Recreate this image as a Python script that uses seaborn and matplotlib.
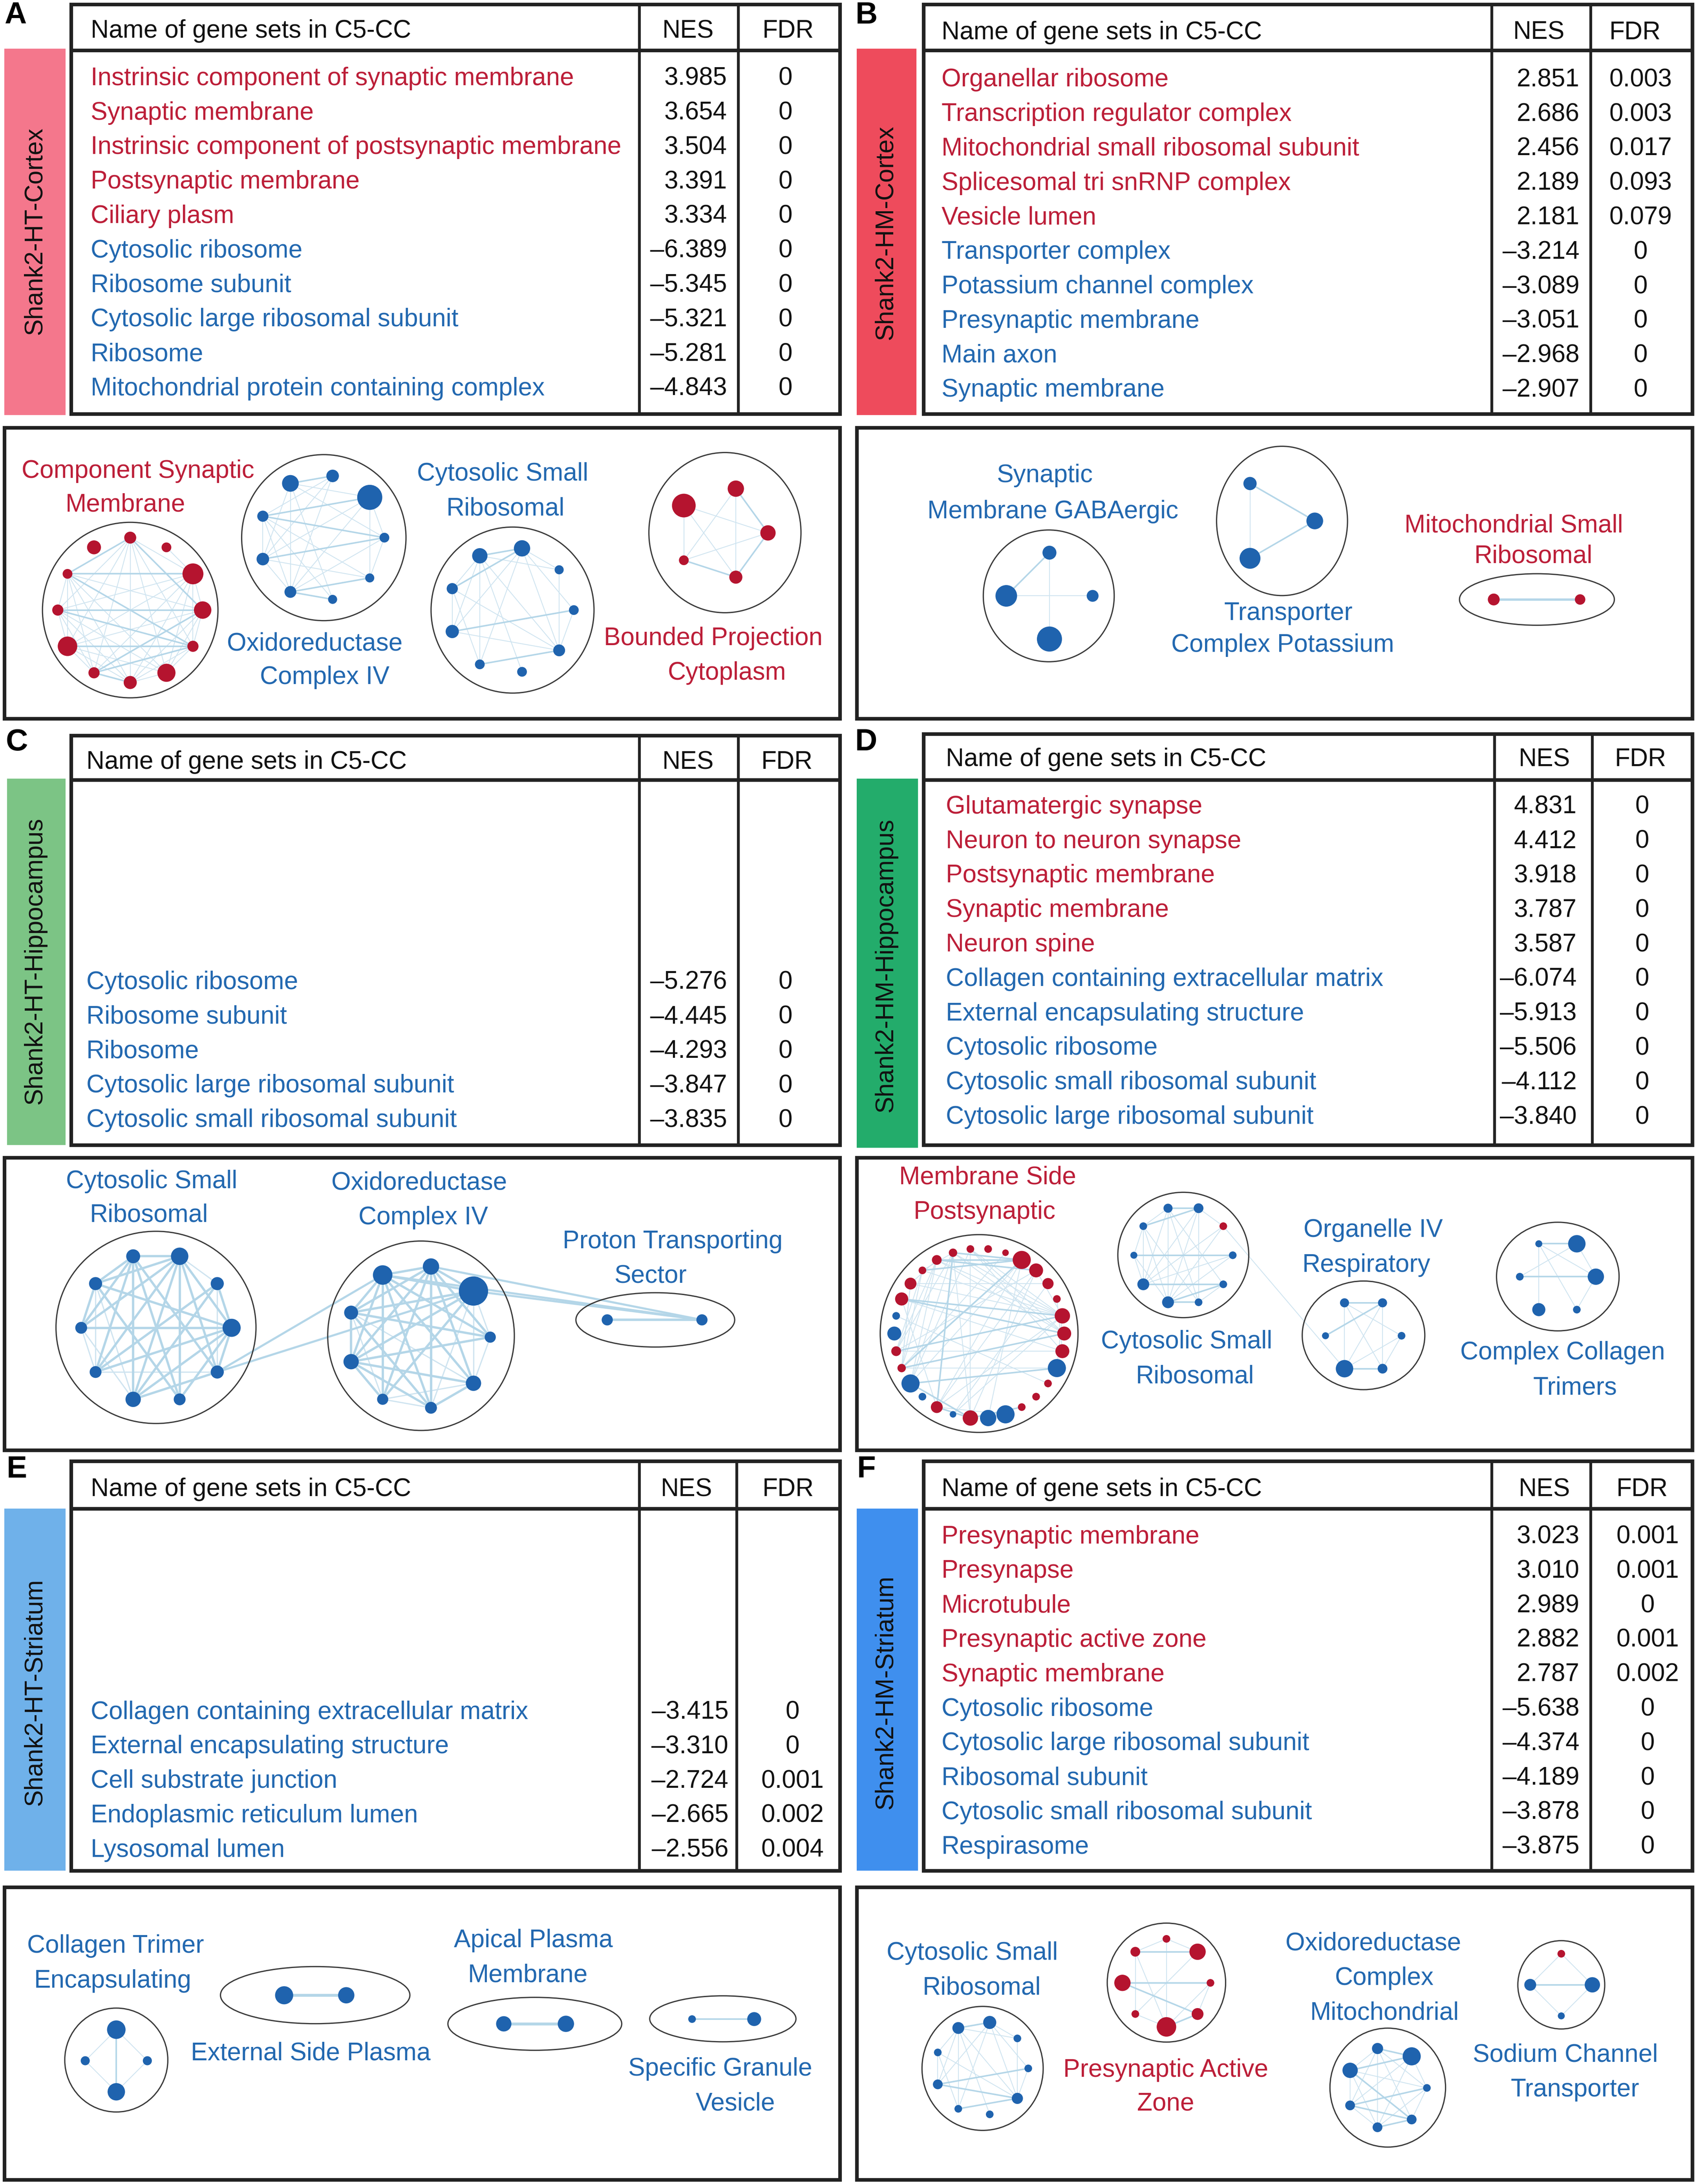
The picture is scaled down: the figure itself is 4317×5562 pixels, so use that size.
import numpy as np
import pandas as pd
import matplotlib
matplotlib.use("Agg")
import matplotlib.pyplot as plt
import seaborn as sns
from matplotlib.collections import LineCollection
from matplotlib.patches import Ellipse, Rectangle

sns.set_theme(style="white")
plt.rcParams["font.family"] = ["Liberation Sans", "DejaVu Sans"]

RED = "#B5142F"
BLUE = "#1F63AE"
TXT_RED = "#BC1E38"
TXT_BLUE = "#2268B0"
EDGE = "#B4D6E8"
EDGE_LIGHT = "#CFE4F0"

# --- Table contents ---
A_names = ["Instrinsic component of synaptic membrane", "Synaptic membrane",
           "Instrinsic component of postsynaptic membrane", "Postsynaptic membrane", "Ciliary plasm",
           "Cytosolic ribosome", "Ribosome subunit", "Cytosolic large ribosomal subunit", "Ribosome",
           "Mitochondrial protein containing complex"]
A_nes = ["3.985", "3.654", "3.504", "3.391", "3.334", "–6.389", "–5.345", "–5.321", "–5.281", "–4.843"]
A_fdr = ["0"] * 10

B_names = ["Organellar ribosome", "Transcription regulator complex", "Mitochondrial small ribosomal subunit",
           "Splicesomal tri snRNP complex", "Vesicle lumen", "Transporter complex", "Potassium channel complex",
           "Presynaptic membrane", "Main axon", "Synaptic membrane"]
B_nes = ["2.851", "2.686", "2.456", "2.189", "2.181", "–3.214", "–3.089", "–3.051", "–2.968", "–2.907"]
B_fdr = ["0.003", "0.003", "0.017", "0.093", "0.079", "0", "0", "0", "0", "0"]

C_names = ["Cytosolic ribosome", "Ribosome subunit", "Ribosome", "Cytosolic large ribosomal subunit",
           "Cytosolic small ribosomal subunit"]
C_nes = ["–5.276", "–4.445", "–4.293", "–3.847", "–3.835"]
C_fdr = ["0"] * 5

D_names = ["Glutamatergic synapse", "Neuron to neuron synapse", "Postsynaptic membrane", "Synaptic membrane",
           "Neuron spine", "Collagen containing extracellular matrix", "External encapsulating structure",
           "Cytosolic ribosome", "Cytosolic small ribosomal subunit", "Cytosolic large ribosomal subunit"]
D_nes = ["4.831", "4.412", "3.918", "3.787", "3.587", "–6.074", "–5.913", "–5.506", "–4.112", "–3.840"]
D_fdr = ["0"] * 10

E_names = ["Collagen containing extracellular matrix", "External encapsulating structure",
           "Cell substrate junction", "Endoplasmic reticulum lumen", "Lysosomal lumen"]
E_nes = ["–3.415", "–3.310", "–2.724", "–2.665", "–2.556"]
E_fdr = ["0", "0", "0.001", "0.002", "0.004"]

F_names = ["Presynaptic membrane", "Presynapse", "Microtubule", "Presynaptic active zone", "Synaptic membrane",
           "Cytosolic ribosome", "Cytosolic large ribosomal subunit", "Ribosomal subunit",
           "Cytosolic small ribosomal subunit", "Respirasome"]
F_nes = ["3.023", "3.010", "2.989", "2.882", "2.787", "–5.638", "–4.374", "–4.189", "–3.878", "–3.875"]
F_fdr = ["0.001", "0.001", "0", "0.001", "0.002", "0", "0", "0", "0", "0"]

# --- Network node sizes (diameter), clockwise on each ring ---
A1_sizes = [8.6, 7, 15, 12.5, 8, 13, 9.4, 8, 14, 8, 7, 10]
A2_sizes = [9, 18, 7, 6.5, 6.5, 8.5, 9, 8, 12]
A3_sizes = [11.7, 6.5, 7, 8.5, 7, 7, 9.5, 8, 11]
A4_sizes = [11.7, 11, 9.4, 7, 17]
B1_sizes = [10, 8.5, 18, 15.5]
B2_sizes = [12, 15, 9.5]
B3_sizes = [7.5, 8.5]
C1_sizes = [12.5, 9.4, 13, 9.4, 8.5, 11, 8.5, 8.5, 9.4, 10]
C2_sizes = [11.7, 21, 8, 11, 8.5, 8, 11, 10, 14]
C3_sizes = [8, 8]
D1_sizes = [5.5, 4.7, 13, 10, 8, 5.5, 11, 10, 10, 13, 5.5, 5.5, 5.5, 13, 11.7,
            11, 4.7, 8.5, 5.5, 13, 6, 7, 10, 5.5, 9.4, 8.5, 5.5, 7, 6, 5.5]
D2_sizes = [7, 5.5, 5.5, 5.5, 5.5, 8.5, 8.5, 5, 5.5, 6.5]
D3_sizes = [6.5, 5.5, 7, 12.5, 5, 6.5]
D4_sizes = [12.5, 11.7, 5.5, 9.4, 5.5, 5]
E1_sizes = [13.3, 6.5, 12.5, 6.5]
E2_sizes = [11.7, 13]
E3_sizes = [11.7, 11]
E4_sizes = [10, 5.5]
F1_sizes = [9.4, 5.5, 5.5, 8, 5.5, 5.5, 7, 5.5, 8.5]
F2_sizes = [5.5, 11.7, 5.5, 8.5, 14, 5.5, 11.7, 7]
F3_sizes = [13, 5.5, 7, 7, 7, 11, 8]
F4_sizes = [5.5, 11, 5, 8.5]

# r = upregulated set, b = downregulated set
D1_kinds = "rrrrrrrrrbrrrbbrbrbbrrbbrrrrrr"
D2_kinds = "brbbbbbbbb"
F4_kinds = "rbbb"

# --- Network edges, node indices into the ring ---
A1_strong = [(10, 2), (9, 3), (8, 4), (7, 3), (7, 4), (10, 4), (9, 4), (7, 6), (0, 10), (0, 3)]
A1_weak = [(0, 2), (0, 4), (0, 5), (0, 6), (0, 7), (0, 8), (0, 9), (2, 3), (2, 4), (2, 5), (2, 6), (2, 7), (2, 8),
           (2, 9), (3, 4), (3, 5), (3, 6), (3, 8), (3, 10), (4, 5), (4, 6), (5, 6), (5, 8), (5, 9), (5, 10), (6, 8),
           (6, 9), (6, 10), (7, 8), (7, 9), (7, 10), (8, 9), (8, 10), (9, 10), (1, 2)]
A2_strong = [(8, 0), (7, 2), (6, 2), (7, 1), (5, 3), (5, 4)]
A2_weak = [(8, 1), (8, 2), (8, 4), (8, 5), (8, 6), (0, 5), (0, 6), (0, 7), (1, 2), (1, 3), (1, 5), (1, 6), (2, 3),
           (2, 5), (7, 3), (7, 4), (7, 5), (7, 6), (6, 5), (6, 3)]
A3_strong = [(8, 0), (6, 2), (5, 3), (7, 0)]
A3_weak = [(8, 1), (8, 3), (8, 4), (8, 5), (8, 6), (8, 7), (0, 1), (0, 2), (0, 3), (0, 5), (0, 6), (1, 3), (7, 3),
           (7, 6), (6, 3), (2, 3), (7, 5)]
A4_strong = [(3, 2), (0, 1), (1, 2)]
A4_weak = [(0, 2), (0, 3), (4, 1), (4, 2), (4, 3), (3, 1)]
B1_strong = [(0, 3)]
B1_weak = [(0, 2), (1, 3)]
B2_strong = [(0, 1), (0, 2)]
B2_weak = [(1, 2)]
B3_strong = [(0, 1)]
B3_weak = []
C1_strong = [(9, 0), (9, 8), (8, 0), (8, 2), (8, 4), (7, 0), (7, 2), (7, 9), (7, 8), (6, 0), (6, 2), (6, 1), (6, 9),
             (5, 0), (5, 2), (5, 9), (5, 1), (5, 3), (4, 0), (4, 9), (4, 2), (3, 0), (3, 2), (2, 0), (2, 1), (3, 9)]
C1_weak = [(7, 6), (7, 5), (8, 5), (8, 6), (1, 3), (9, 6), (9, 5), (0, 1), (6, 3)]
C2_strong = [(8, 0), (8, 1), (7, 6), (4, 3), (7, 0), (7, 1), (7, 2), (7, 8), (6, 0), (6, 1), (6, 2), (6, 3), (6, 8),
             (6, 5), (6, 4), (5, 1), (5, 0), (5, 8), (4, 8), (4, 0), (4, 7), (3, 0), (3, 8), (2, 8), (0, 1), (2, 0)]
C2_weak = [(1, 2), (1, 3), (1, 4), (0, 4), (5, 7), (4, 5), (3, 7), (2, 3), (3, 5)]
C3_strong = [(0, 1)]
C3_weak = []
D1_strong = [(24, 6), (24, 7), (21, 6), (20, 7), (19, 9), (27, 2), (28, 2), (27, 3), (26, 2),
             (15, 12), (19, 15), (17, 15), (28, 17), (2, 20)]
D1_weak = [(29, 7), (29, 6), (29, 8), (28, 7), (28, 6), (27, 6), (27, 7), (26, 6), (25, 6), (25, 4), (24, 8),
           (20, 9), (21, 8), (17, 6), (15, 28), (15, 3), (16, 6), (13, 17), (19, 29), (19, 28),
           (19, 27), (21, 27), (21, 28), (20, 26), (20, 27), (20, 25), (14, 2), (17, 2), (23, 10),
           (29, 15), (24, 17), (25, 20), (26, 21), (27, 25), (28, 26), (9, 6), (8, 5), (6, 3), (2, 19), (3, 21),
           (1, 20), (3, 17), (4, 16)]
D2_strong = [(9, 0), (8, 0), (7, 2), (6, 3), (5, 4), (3, 5)]
D2_weak = [(9, 8), (9, 6), (9, 5), (9, 4), (9, 3), (0, 6), (0, 5), (0, 4), (1, 5), (1, 6), (8, 7), (8, 6), (8, 5), (8, 4),
           (7, 6), (7, 5), (2, 6), (2, 5), (3, 4), (0, 1)]
D3_strong = [(5, 0), (3, 2), (4, 0)]
D3_weak = [(5, 3), (5, 2), (5, 1), (0, 3), (0, 2), (1, 3), (1, 2)]
D4_strong = [(5, 0), (4, 1)]
D4_weak = [(0, 4), (0, 1), (5, 1), (5, 2), (5, 3), (1, 2)]
E1_strong = [(0, 2)]
E1_weak = [(0, 1), (1, 2), (2, 3), (3, 0)]
E2_strong = [(0, 1)]
E2_weak = []
E3_strong = [(0, 1)]
E3_weak = []
E4_strong = [(0, 1)]
E4_weak = []
F1_strong = [(8, 0), (6, 2), (5, 3), (6, 3)]
F1_weak = [(8, 1), (8, 3), (8, 4), (8, 5), (8, 6), (8, 7), (0, 1), (0, 2), (0, 3), (0, 5), (0, 6), (1, 3), (7, 3),
           (7, 6), (2, 3), (7, 5)]
F2_strong = [(7, 1), (6, 2), (6, 3), (4, 3)]
F2_weak = [(0, 7), (0, 1), (0, 4), (7, 5), (7, 4), (1, 5), (2, 3), (2, 4), (5, 4)]
F3_strong = [(5, 0), (4, 1), (5, 2), (4, 2), (2, 3), (6, 0)]
F3_weak = [(6, 5), (6, 4), (6, 3), (6, 2), (6, 1), (0, 4), (0, 3), (0, 1), (1, 5), (1, 2), (1, 3), (3, 5), (3, 4), (4, 5)]
F4_strong = [(3, 1)]
F4_weak = [(0, 1), (0, 3), (1, 2), (2, 3)]

# --- Layout, in units of 1/1217 of the figure width ---
PX = 4317 / 1217 * 72 / 100  # points per layout unit

panels = [
    dict(letter="A", lpos=(11, 11), label="Shank2-HT-Cortex", color="#F4778C", bar=(3, 35, 47, 298), lab=(25, 166),
         box=(51, 3, 603, 297), hdr=36, cols=(459, 530), hy=21, tx=65, y0=55, nes_x=522, fdr_x=564, hn=494, hf=566,
         names=A_names, nes=A_nes, fdr=A_fdr, n_up=5, net=(3, 307, 603, 516)),
    dict(letter="B", lpos=(622, 11), label="Shank2-HM-Cortex", color="#EE4B5C", bar=(615, 35, 658, 298), lab=(636, 167),
         box=(663, 3, 1215, 297), hdr=36, cols=(1071, 1142), hy=22, tx=676, y0=56, nes_x=1134, fdr_x=1178, hn=1105, hf=1174,
         names=B_names, nes=B_nes, fdr=B_fdr, n_up=5, net=(615, 307, 1215, 516)),
    dict(letter="C", lpos=(12, 533), label="Shank2-HT-Hippocampus", color="#7CC485", bar=(5, 559, 47, 822), lab=(25, 690),
         box=(51, 528, 603, 822), hdr=560, cols=(459, 530), hy=546, tx=62, y0=704, nes_x=522, fdr_x=564, hn=494, hf=565,
         names=C_names, nes=C_nes, fdr=C_fdr, n_up=0, net=(3, 831, 603, 1041)),
    dict(letter="D", lpos=(622, 533), label="Shank2-HM-Hippocampus", color="#23AC6B", bar=(615, 559, 659, 824), lab=(636, 693),
         box=(663, 527, 1215, 822), hdr=560, cols=(1073, 1143), hy=544, tx=679, y0=578, nes_x=1132, fdr_x=1179, hn=1109, hf=1178,
         names=D_names, nes=D_nes, fdr=D_fdr, n_up=5, net=(615, 831, 1215, 1041)),
    dict(letter="E", lpos=(12, 1055), label="Shank2-HT-Striatum", color="#6FB1EA", bar=(3, 1083, 47, 1343), lab=(25, 1215),
         box=(51, 1049, 603, 1343), hdr=1083, cols=(459, 529), hy=1068, tx=65, y0=1228, nes_x=523, fdr_x=569, hn=493, hf=566,
         names=E_names, nes=E_nes, fdr=E_fdr, n_up=0, net=(3, 1355, 603, 1565)),
    dict(letter="F", lpos=(622, 1055), label="Shank2-HM-Striatum", color="#3F8FEE", bar=(615, 1083, 659, 1343), lab=(636, 1215),
         box=(663, 1049, 1215, 1343), hdr=1083, cols=(1071, 1142), hy=1068, tx=676, y0=1102, nes_x=1134, fdr_x=1183, hn=1109, hf=1179,
         names=F_names, nes=F_nes, fdr=F_fdr, n_up=5, net=(615, 1355, 1215, 1565)),
]
ROW_STEP = 24.75
TEXT_DY = 1.3  # va="center" sits a bit high for this font

# ellipse centre and radii, ring centre, ring radius, angle of first node (deg, clockwise from top), edge width factor
networks = [
    dict(sizes=A1_sizes, kinds="r", strong=A1_strong, weak=A1_weak, ell=(93.5, 438, 63, 63), c=(93.5, 438), R=52, a0=0),
    dict(sizes=A2_sizes, kinds="b", strong=A2_strong, weak=A2_weak, ell=(232.5, 386, 59, 59.6), c=(231, 386), R=45, a0=10),
    dict(sizes=A3_sizes, kinds="b", strong=A3_strong, weak=A3_weak, ell=(368, 438, 58.5, 59.6), c=(367, 438), R=45, a0=10),
    dict(sizes=A4_sizes, kinds="r", strong=A4_strong, weak=A4_weak, ell=(520.5, 382.4, 54.6, 57.5), c=(518, 382.6), R=33.4, a0=18),
    dict(sizes=B1_sizes, kinds="b", strong=B1_strong, weak=B1_weak, ell=(753, 427.8, 47, 47.3), c=(753.5, 427.8), R=31, a0=0),
    dict(sizes=B2_sizes, kinds="b", strong=B2_strong, weak=B2_weak, ell=(920.5, 374, 47, 53.6), c=(913, 374), R=31, a0=90),
    dict(sizes=B3_sizes, kinds="r", strong=B3_strong, weak=B3_weak, ell=(1103.5, 430.4, 55.6, 18.5), c=(1103.5, 430.4), R=31, a0=90, w=1.5),
    dict(sizes=C1_sizes, kinds="b", strong=C1_strong, weak=C1_weak, ell=(112, 953, 71.8, 69), c=(112.3, 953.3), R=54, a0=18, w=1.5),
    dict(sizes=C2_sizes, kinds="b", strong=C2_strong, weak=C2_weak, ell=(302.3, 959, 67, 68), c=(300.5, 960), R=51.5, a0=10, w=1.5),
    dict(sizes=C3_sizes, kinds="b", strong=C3_strong, weak=C3_weak, ell=(470.5, 947.6, 57, 19.5), c=(470, 947.6), R=34, a0=90, w=1.6),
    dict(sizes=D1_sizes, kinds=D1_kinds, strong=D1_strong, weak=D1_weak, ell=(703, 957.4, 71, 71), c=(703.1, 957.4), R=61, a0=6),
    dict(sizes=D2_sizes, kinds=D2_kinds, strong=D2_strong, weak=D2_weak, ell=(849.6, 901, 47, 45), c=(849.6, 901.2), R=35.5, a0=18),
    dict(sizes=D3_sizes, kinds="b", strong=D3_strong, weak=D3_weak, ell=(979, 958.7, 44, 39), c=(979, 959), R=27.3, a0=30),
    dict(sizes=D4_sizes, kinds="b", strong=D4_strong, weak=D4_weak, ell=(1118.5, 916.5, 44, 39), c=(1118.5, 916.6), R=27.3, a0=30),
    dict(sizes=E1_sizes, kinds="b", strong=E1_strong, weak=E1_weak, ell=(83.5, 1479, 37, 37.3), c=(83.5, 1479.5), R=22.3, a0=0),
    dict(sizes=E2_sizes, kinds="b", strong=E2_strong, weak=E2_weak, ell=(226.3, 1432.4, 68, 20.5), c=(226.3, 1432.5), R=22.3, a0=90, w=1.9),
    dict(sizes=E3_sizes, kinds="b", strong=E3_strong, weak=E3_weak, ell=(384, 1453, 62.4, 19), c=(384, 1453), R=22.3, a0=90, w=1.9),
    dict(sizes=E4_sizes, kinds="b", strong=E4_strong, weak=E4_weak, ell=(519, 1449.4, 52.5, 16.5), c=(519.2, 1449.6), R=22.3, a0=90),
    dict(sizes=F1_sizes, kinds="b", strong=F1_strong, weak=F1_weak, ell=(705.5, 1485, 43.5, 44.5), c=(704.8, 1485), R=33.5, a0=10),
    dict(sizes=F2_sizes, kinds="r", strong=F2_strong, weak=F2_weak, ell=(837.5, 1423.4, 42.5, 42.7), c=(837.5, 1423.6), R=31.6, a0=0),
    dict(sizes=F3_sizes, kinds="b", strong=F3_strong, weak=F3_weak, ell=(996.4, 1498.8, 41.5, 42.7), c=(995.5, 1499), R=29, a0=38.6),
    dict(sizes=F4_sizes, kinds=F4_kinds, strong=F4_strong, weak=F4_weak, ell=(1121, 1425, 31.2, 31.7), c=(1121, 1425), R=22.3, a0=0),
]

# links that leave a ring: (network, node, network, node)
cross_links = [(7, 3, 8, 8), (7, 3, 8, 1), (8, 0, 9, 0), (8, 8, 9, 0), (8, 1, 9, 0)]
cross_links_weak = [(11, 1, 12, 3)]

# network captions
captions = [
    ("Component Synaptic", 99, 337, "r"), ("Membrane", 90, 361, "r"),
    ("Cytosolic Small", 361, 339, "b"), ("Ribosomal", 363, 364, "b"),
    ("Oxidoreductase", 226, 461, "b"), ("Complex IV", 233, 485, "b"),
    ("Bounded Projection", 512, 457, "r"), ("Cytoplasm", 522, 482, "r"),
    ("Synaptic", 750, 340, "b"), ("Membrane GABAergic", 756, 366, "b"),
    ("Transporter", 925, 439, "b"), ("Complex Potassium", 921, 462, "b"),
    ("Mitochondrial Small", 1087, 376, "r"), ("Ribosomal", 1101, 398, "r"),
    ("Cytosolic Small", 109, 847, "b"), ("Ribosomal", 107, 871, "b"),
    ("Oxidoreductase", 301, 848, "b"), ("Complex IV", 304, 873, "b"),
    ("Proton Transporting", 483, 890, "b"), ("Sector", 467, 915, "b"),
    ("Membrane Side", 709, 844, "r"), ("Postsynaptic", 707, 869, "r"),
    ("Cytosolic Small", 852, 962, "b"), ("Ribosomal", 858, 987, "b"),
    ("Organelle IV", 986, 882, "b"), ("Respiratory", 981, 907, "b"),
    ("Complex Collagen", 1122, 970, "b"), ("Trimers", 1131, 995, "b"),
    ("Collagen Trimer", 83, 1396, "b"), ("Encapsulating", 81, 1421, "b"),
    ("External Side Plasma", 223, 1473, "b"),
    ("Apical Plasma", 383, 1392, "b"), ("Membrane", 379, 1417, "b"),
    ("Specific Granule", 517, 1484, "b"), ("Vesicle", 528, 1509, "b"),
    ("Cytosolic Small", 698, 1401, "b"), ("Ribosomal", 705, 1426, "b"),
    ("Presynaptic Active", 837, 1485, "r"), ("Zone", 837, 1509, "r"),
    ("Oxidoreductase", 986, 1394, "b"), ("Complex", 994, 1419, "b"), ("Mitochondrial", 994, 1444, "b"),
    ("Sodium Channel", 1124, 1474, "b"), ("Transporter", 1131, 1499, "b"),
]

fig = plt.figure(figsize=(43.17, 55.62), dpi=100, facecolor="white")
ax = fig.add_axes([0, 0, 1, 1])
ax.set_xlim(0, 1217)
ax.set_ylim(1568, 0)
ax.axis("off")

FS = 18.0 * PX
LINE = "#222222"


def rect(x0, y0, x1, y1, **kw):
    ax.add_patch(Rectangle((x0, y0), x1 - x0, y1 - y0, **kw))


# --- Tables and side bars ---
for p in panels:
    ax.text(p["lpos"][0], p["lpos"][1], p["letter"], fontsize=22 * PX, fontweight="bold", color="black",
            ha="center", va="center")
    x0, y0, x1, y1 = p["bar"]
    rect(x0, y0, x1, y1, facecolor=p["color"], edgecolor="none")
    ax.text(p["lab"][0], p["lab"][1], p["label"], rotation=90, fontsize=FS, color="#111111", ha="center", va="center")

    x0, y0, x1, y1 = p["box"]
    rect(x0, y0, x1, y1, facecolor="white", edgecolor=LINE, lw=2.6 * PX)
    ax.plot([x0, x1], [p["hdr"], p["hdr"]], color=LINE, lw=2.6 * PX, solid_capstyle="butt")
    for cx in p["cols"]:
        ax.plot([cx, cx], [y0, y1], color=LINE, lw=2 * PX, solid_capstyle="butt")
    hy = p["hy"] + TEXT_DY
    ax.text(p["tx"], hy, "Name of gene sets in C5-CC", fontsize=FS, color="#111111", va="center")
    ax.text(p["hn"], hy, "NES", fontsize=FS, color="#111111", ha="center", va="center")
    ax.text(p["hf"], hy, "FDR", fontsize=FS, color="#111111", ha="center", va="center")
    for i, (name, nes, fdr) in enumerate(zip(p["names"], p["nes"], p["fdr"])):
        y = p["y0"] + i * ROW_STEP + TEXT_DY
        ax.text(p["tx"], y, name, fontsize=FS, color=TXT_RED if i < p["n_up"] else TXT_BLUE, va="center")
        ax.text(p["nes_x"], y, nes, fontsize=FS, color="#111111", ha="right", va="center")
        ax.text(p["fdr_x"], y, fdr, fontsize=FS, color="#111111", ha="center", va="center")

    x0, y0, x1, y1 = p["net"]
    rect(x0, y0, x1, y1, facecolor="white", edgecolor=LINE, lw=2.6 * PX)

# --- Networks ---
frames = []
strong_segs, strong_w, weak_segs, weak_w = [], [], [], []
coords = []
for k, net in enumerate(networks):
    n = len(net["sizes"])
    theta = np.deg2rad(net["a0"] + np.arange(n) * 360 / n)
    xs = net["c"][0] + net["R"] * np.sin(theta)
    ys = net["c"][1] - net["R"] * np.cos(theta)
    coords.append((xs, ys))
    kinds = net["kinds"] * n if len(net["kinds"]) == 1 else net["kinds"]
    frames.append(pd.DataFrame({"x": xs, "y": ys, "kind": list(kinds),
                                "area": (np.array(net["sizes"]) * PX) ** 2}))
    w = net.get("w", 1.0)
    for i, j in net["strong"]:
        strong_segs.append([(xs[i], ys[i]), (xs[j], ys[j])])
        strong_w.append(1.1 * w * PX)
    for i, j in net["weak"]:
        weak_segs.append([(xs[i], ys[i]), (xs[j], ys[j])])
        weak_w.append(0.6 * w * PX)
    cx, cy, rx, ry = net["ell"]
    ax.add_patch(Ellipse((cx, cy), 2 * rx, 2 * ry, facecolor="none", edgecolor="#3A3A3A", lw=0.9 * PX, zorder=2.5))

for a, i, b, j in cross_links:
    strong_segs.append([(coords[a][0][i], coords[a][1][i]), (coords[b][0][j], coords[b][1][j])])
    strong_w.append(1.5 * PX)
for a, i, b, j in cross_links_weak:
    weak_segs.append([(coords[a][0][i], coords[a][1][i]), (coords[b][0][j], coords[b][1][j])])
    weak_w.append(0.6 * PX)

ax.add_collection(LineCollection(weak_segs, colors=EDGE_LIGHT, linewidths=weak_w, zorder=2))
ax.add_collection(LineCollection(strong_segs, colors=EDGE, linewidths=strong_w, zorder=2.1))

nodes = pd.concat(frames, ignore_index=True)
a_lo, a_hi = nodes["area"].min(), nodes["area"].max()
sns.scatterplot(data=nodes, x="x", y="y", hue="kind", palette={"r": RED, "b": BLUE},
                size="area", sizes=(a_lo, a_hi), size_norm=(a_lo, a_hi),
                linewidth=0, legend=False, ax=ax, zorder=3)
ax.set_xlim(0, 1217)
ax.set_ylim(1568, 0)

for text, x, y, kind in captions:
    ax.text(x, y + TEXT_DY, text, fontsize=FS, color=TXT_RED if kind == "r" else TXT_BLUE,
            ha="center", va="center", zorder=4)

fig.savefig("out.png", dpi=100)
